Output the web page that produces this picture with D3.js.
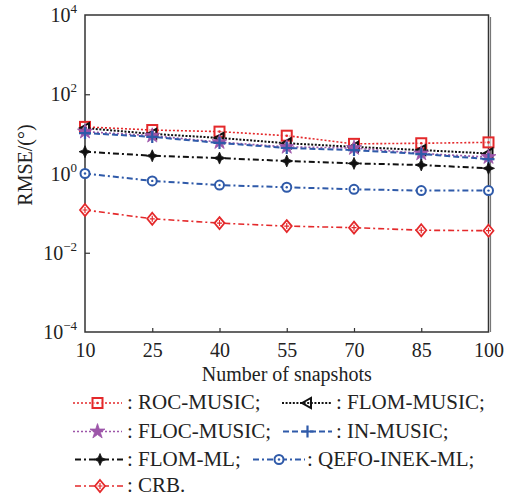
<!DOCTYPE html>
<html>
<head>
<meta charset="utf-8">
<script src="https://cdn.jsdelivr.net/npm/d3@7"></script>
<style>
  html, body { margin: 0; padding: 0; background: #fff; }
  svg { display: block; font-family: "Liberation Serif", "Times New Roman", serif; }
</style>
</head>
<body>
<svg id="chart" width="508" height="497"></svg>
<script>
// Number of snapshots on the x axis
const snapshots = [10, 25, 40, 55, 70, 85, 100];

// RMSE (degrees) for each estimator
const rocMusic  = [15, 12.5, 11.4, 9.0, 5.6, 5.8, 6.1];
const flomMusic = [14, 10.0, 7.9, 5.8, 4.7, 3.9, 3.2];
const flocMusic = [11.4, 9.0, 6.2, 4.7, 4.4, 3.2, 2.6];
const inMusic   = [10.5, 8.4, 5.9, 4.4, 3.9, 3.1, 2.3];
const flomMl    = [3.55, 2.8, 2.45, 2.07, 1.8, 1.64, 1.35];
const qefoInek  = [1.0, 0.65, 0.51, 0.45, 0.40, 0.37, 0.37];
const crb       = [0.12, 0.072, 0.056, 0.047, 0.043, 0.037, 0.036];

const seriesNames = ["ROC-MUSIC", "FLOM-MUSIC", "FLOC-MUSIC", "IN-MUSIC", "FLOM-ML", "QEFO-INEK-ML", "CRB"];
const yTickExponents = [4, 2, 0, -2, -4];

const RED = "#e4292b", BLACK = "#111", PURPLE = "#9d56a9", BLUE = "#2f5aa9";

// line style + marker for every curve
const series = [
  { name: seriesNames[0], values: rocMusic,  color: RED,    dash: "2,2",     width: 1.6, marker: "square" },
  { name: seriesNames[1], values: flomMusic, color: BLACK,  dash: "2,1.6",   width: 2.0, marker: "triangle" },
  { name: seriesNames[2], values: flocMusic, color: PURPLE, dash: "2,2",     width: 1.6, marker: "star" },
  { name: seriesNames[3], values: inMusic,   color: BLUE,   dash: "6,3",     width: 2.0, marker: "plus" },
  { name: seriesNames[4], values: flomMl,    color: BLACK,  dash: "6,3,2,3", width: 2.0, marker: "cross4" },
  { name: seriesNames[5], values: qefoInek,  color: BLUE,   dash: "6,3,2,3", width: 2.0, marker: "circle" },
  { name: seriesNames[6], values: crb,       color: RED,    dash: "6,3,2,3", width: 1.6, marker: "diamond" }
];

const svg = d3.select("#chart");
const L = 85, R = 488.5, T = 15, B = 332;

const x = d3.scaleLinear().domain([10, 100]).range([L, R]);
const y = d3.scaleLog().domain([1e-4, 1e4]).range([B, T]);

const axisColor = "#333";

// frame
svg.append("path")
  .attr("d", `M${L},${B}V${T}H${R}V${B}Z`)
  .attr("fill", "none").attr("stroke", axisColor).attr("stroke-width", 1.5);
svg.append("line")
  .attr("x1", R + 2).attr("x2", R + 2).attr("y1", T + 2).attr("y2", B)
  .attr("stroke", "#777").attr("stroke-width", 1.2);

// x axis: inward ticks, labels below
const xAxis = d3.axisBottom(x).tickValues(snapshots).tickSizeInner(-4).tickSizeOuter(0).tickPadding(10);
const gx = svg.append("g").attr("transform", `translate(0,${B})`).call(xAxis);
gx.select(".domain").remove();
gx.selectAll(".tick line").attr("stroke", axisColor).attr("stroke-width", 1.2)
  .filter(d => d === 10 || d === 100).remove();
gx.selectAll(".tick text").attr("font-size", 20).attr("fill", "#222")
  .attr("font-family", "Liberation Serif, serif").attr("dy", "0.75em");

// y axis: inward ticks, labels as powers of ten
const yAxis = d3.axisLeft(y).tickValues(yTickExponents.map(e => Math.pow(10, e)))
  .tickSizeInner(-5).tickSizeOuter(0).tickFormat("");
const gy = svg.append("g").attr("transform", `translate(${L},0)`).call(yAxis);
gy.select(".domain").remove();
gy.selectAll(".tick line").attr("stroke", axisColor).attr("stroke-width", 1.2)
  .filter(d => d >= 1e4 || d <= 1e-4).remove();

yTickExponents.forEach(e => {
  const t = svg.append("text")
    .attr("x", 77).attr("y", y(Math.pow(10, e)) + 7)
    .attr("text-anchor", "end").attr("font-size", 20).attr("fill", "#222");
  t.append("tspan").text("10");
  t.append("tspan").attr("font-size", 13).attr("dy", -9)
    .text(e < 0 ? "\u2212" + Math.abs(e) : String(e));
});

// axis titles
svg.append("text")
  .attr("x", (L + R) / 2).attr("y", 381)
  .attr("text-anchor", "middle").attr("font-size", 20).attr("fill", "#222")
  .text("Number of snapshots");
svg.append("text")
  .attr("transform", "translate(32,165) rotate(-90)")
  .attr("text-anchor", "middle").attr("font-size", 20).attr("fill", "#222")
  .text("RMSE/(\u00B0)");

// markers
const starPath = d3.symbol(d3.symbolStar, 70)();
function drawMarker(g, type, color) {
  switch (type) {
    case "square":
      g.append("rect").attr("x", -5).attr("y", -5).attr("width", 10).attr("height", 10)
        .attr("fill", "#fff").attr("fill-opacity", 0.6).attr("stroke", color).attr("stroke-width", 2);
      g.append("circle").attr("r", 1.3).attr("fill", color);
      break;
    case "triangle":
      g.append("path").attr("d", "M-5,0L4,-5L4,5Z")
        .attr("fill", "none").attr("stroke", color).attr("stroke-width", 2);
      break;
    case "star":
      g.append("path").attr("d", starPath).attr("fill", color).attr("stroke", color).attr("stroke-width", 0.8);
      break;
    case "plus":
      g.append("path").attr("d", "M-6,0H6M0,-6V6")
        .attr("stroke", color).attr("stroke-width", 2.2);
      break;
    case "cross4":
      g.append("path").attr("d", "M0,-6L1.8,-1.8L6,0L1.8,1.8L0,6L-1.8,1.8L-6,0L-1.8,-1.8Z")
        .attr("fill", color).attr("stroke", color).attr("stroke-width", 0.8);
      break;
    case "circle":
      g.append("circle").attr("r", 4.5).attr("fill", "#fff").attr("stroke", color).attr("stroke-width", 2);
      g.append("circle").attr("r", 1.2).attr("fill", color);
      break;
    case "diamond":
      g.append("path").attr("d", "M0,-6L5,0L0,6L-5,0Z")
        .attr("fill", "#fff").attr("stroke", color).attr("stroke-width", 1.8);
      g.append("path").attr("d", "M-2.5,0H2.5M0,-3V3").attr("stroke", color).attr("stroke-width", 1.2);
      break;
  }
}

// curves
const line = d3.line().x((d, i) => x(snapshots[i])).y(d => y(d));
series.forEach(s => {
  const g = svg.append("g");
  g.append("path").datum(s.values).attr("d", line)
    .attr("fill", "none").attr("stroke", s.color)
    .attr("stroke-width", s.width).attr("stroke-dasharray", s.dash);
  s.values.forEach((v, i) => {
    drawMarker(g.append("g").attr("transform", `translate(${x(snapshots[i])},${y(v)})`), s.marker, s.color);
  });
});

// legend, laid out as a flowing caption
const legendLayout = [
  { x0: 73,  x1: 122, row: 0, tx: 127 },
  { x0: 282, x1: 332, row: 0, tx: 336 },
  { x0: 73,  x1: 122, row: 1, tx: 127 },
  { x0: 283, x1: 332, row: 1, tx: 336 },
  { x0: 75,  x1: 125, row: 2, tx: 127 },
  { x0: 253, x1: 305, row: 2, tx: 307 },
  { x0: 75,  x1: 125, row: 3, tx: 127 }
];
const rowY = [403, 431.5, 459.5, 486];
series.forEach((s, i) => {
  const lay = legendLayout[i];
  const cy = rowY[lay.row];
  const g = svg.append("g");
  g.append("line").attr("x1", lay.x0).attr("x2", lay.x1).attr("y1", cy).attr("y2", cy)
    .attr("stroke", s.color).attr("stroke-width", s.width).attr("stroke-dasharray", s.dash);
  drawMarker(g.append("g").attr("transform", `translate(${(lay.x0 + lay.x1) / 2},${cy})`), s.marker, s.color);
  g.append("text").attr("x", lay.tx).attr("y", cy + 6)
    .attr("font-size", 21).attr("fill", "#222")
    .text(": " + s.name + (i === series.length - 1 ? "." : ";"));
});
</script>
</body>
</html>
